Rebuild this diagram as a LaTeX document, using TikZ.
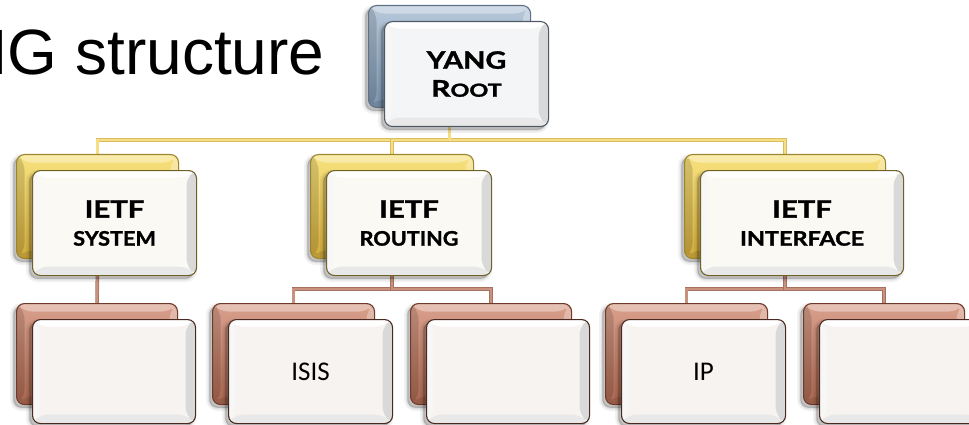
\documentclass[tikz,border=0pt]{standalone}
\usepackage{graphicx}
\usepackage{fontspec}
\setmainfont{Liberation Sans}
\newfontfamily\hdfont{Lato}[BoldFeatures={FakeBold=1.3}]
\newfontfamily\lffont{Carlito}

\definecolor{rootTop}{HTML}{B7C8DA}
\definecolor{rootBot}{HTML}{7C94AE}
\definecolor{rootEdge}{HTML}{5F7186}
\definecolor{rootLine}{HTML}{4F5A66}
\definecolor{rootFill}{HTML}{F4F5F6}
\definecolor{goldTop}{HTML}{F8E27E}
\definecolor{goldBot}{HTML}{D0AA3C}
\definecolor{goldEdge}{HTML}{9C8530}
\definecolor{goldLine}{HTML}{6E6228}
\definecolor{goldFill}{HTML}{FAF9F3}
\definecolor{copTop}{HTML}{D9A08C}
\definecolor{copBot}{HTML}{A8664F}
\definecolor{copEdge}{HTML}{6E3A2B}
\definecolor{copLine}{HTML}{4A2A20}
\definecolor{copFill}{HTML}{F7F3F1}
\definecolor{busGold}{HTML}{F6DE86}
\definecolor{busGoldEdge}{HTML}{D8BC5E}
\definecolor{busCop}{HTML}{C8927F}
\definecolor{busCopEdge}{HTML}{A8715F}

\pgfdeclarelayer{bg}
\pgfsetlayers{bg,main}

\tikzset{
  box/.style={rectangle, rounded corners=8pt, inner sep=0pt, anchor=north west,
    line width=1.1pt, align=center},
  % soft shadow below and to the left, built from stacked translucent copies
  softshadow/.style={
    preaction={draw=black, draw opacity=.05, line width=7pt, fill=black, fill opacity=.06,
      transform canvas={xshift=-3pt, yshift=-3pt}},
    preaction={draw=black, draw opacity=.07, line width=3.5pt, fill=black, fill opacity=.06,
      transform canvas={xshift=-3pt, yshift=-3pt}},
    preaction={draw=black, draw opacity=.10, line width=1pt, fill=black, fill opacity=.08,
      transform canvas={xshift=-3pt, yshift=-3pt}}},
  % chrome bevel on the coloured back plates
  backbevel/.style={path picture={
    \path (path picture bounding box.north west) coordinate (o1)
          (path picture bounding box.north east) coordinate (o2)
          (path picture bounding box.south east) coordinate (o3)
          (path picture bounding box.south west) coordinate (o4);
    \path ([shift={(8pt,-8pt)}]o1) coordinate (i1)
          ([shift={(-8pt,-8pt)}]o2) coordinate (i2)
          ([shift={(-8pt,8pt)}]o3) coordinate (i3)
          ([shift={(8pt,8pt)}]o4) coordinate (i4);
    \fill[white,opacity=.35] (o1)--(o2)--(i2)--(i1)--cycle;
    \fill[black,opacity=.14] (o1)--(i1)--(i4)--(o4)--cycle;
    \fill[white,opacity=.30] (o2)--(o3)--(i3)--(i2)--cycle;
    \fill[black,opacity=.10] (o4)--(i4)--(i3)--(o3)--cycle;
  }},
  % light bevel on the white front plates
  frontbevel/.style={path picture={
    \path (path picture bounding box.north west) coordinate (o1)
          (path picture bounding box.north east) coordinate (o2)
          (path picture bounding box.south east) coordinate (o3)
          (path picture bounding box.south west) coordinate (o4);
    \path ([shift={(7pt,-7pt)}]o1) coordinate (i1)
          ([shift={(-10pt,-7pt)}]o2) coordinate (i2)
          ([shift={(-10pt,9pt)}]o3) coordinate (i3)
          ([shift={(7pt,9pt)}]o4) coordinate (i4);
    \fill[white] (o1)--(o2)--(i2)--(i1)--cycle;
    \fill[white!97!black] (o1)--(i1)--(i4)--(o4)--cycle;
    \fill[black!15] (o2)--(o3)--(i3)--(i2)--cycle;
    \fill[black!9] (o4)--(i4)--(i3)--(o3)--cycle;
  }},
  rootback/.style={box, minimum height=102pt, top color=rootTop, bottom color=rootBot,
    draw=rootEdge, softshadow, backbevel},
  rootfront/.style={box, minimum height=105pt, fill=rootFill,
    draw=rootLine, softshadow, frontbevel},
  goldback/.style={box, minimum height=104pt, top color=goldTop, bottom color=goldBot,
    draw=goldEdge, softshadow, backbevel},
  goldfront/.style={box, minimum height=105pt, fill=goldFill,
    draw=goldLine, softshadow, frontbevel},
  copback/.style={box, minimum height=101pt, top color=copTop, bottom color=copBot,
    draw=copEdge, softshadow, backbevel},
  copfront/.style={box, minimum height=104pt, fill=copFill,
    draw=copLine, softshadow, frontbevel},
  ybus/.style={draw=busGoldEdge, line width=3.6pt,
    postaction={draw=busGold, line width=2.2pt}},
  cbus/.style={draw=busCopEdge, line width=3.6pt,
    postaction={draw=busCop, line width=2.2pt}},
  hdlabel/.style={font=\hdfont\bfseries\fontsize{24}{28}\selectfont},
  leaflabel/.style={font=\lffont\fontsize{27}{30}\selectfont},
}

% a coloured back plate with its white front plate on top
% #1 name, #2 x, #3 y, #4 width, #5 tier, #6 label, #7 label style
\newcommand\platepair[7]{%
  \node[#5back, minimum width=#4] (#1B) at (#2,#3) {};
  \node[#5front, minimum width=#4+2pt, #7] (#1) at ([shift={(16pt,-16pt)}]#1B.north west) {#6};
}

% horizontally widened heading words
\newcommand\wide[2]{\scalebox{#1}[1]{#2}}
\newcommand\subline[2]{\wide{#1}{\fontsize{20}{28}\selectfont #2}}

\begin{document}
\begin{tikzpicture}[x=1pt, y=-1pt]
  \useasboundingbox (0,0) rectangle (969,425);
  \clip (0,0) rectangle (969,425);

  \node[anchor=base west, inner sep=0pt, font=\fontsize{64}{64}\selectfont] (title) at (-10,75) {IG structure};

  % root
  \platepair{root}{368}{5}{162pt}{root}{\wide{1.2}{YANG}\\\wide{1.3}{\fontsize{23}{28}\selectfont R\fontsize{18}{28}\selectfont OOT}}{hdlabel}

  % second tier
  \platepair{sys}{16}{154}{162pt}{gold}{\wide{1.22}{IETF}\\\subline{1.08}{SYSTEM}}{hdlabel}
  \platepair{rt}{310}{154}{163pt}{gold}{\wide{1.22}{IETF}\\\subline{1.08}{ROUTING}}{hdlabel}
  \platepair{if}{684}{154}{201pt}{gold}{\wide{1.22}{IETF}\\\subline{1.17}{INTERFACE}}{hdlabel}

  % third tier
  \platepair{sysa}{16}{303}{161pt}{cop}{}{leaflabel}
  \platepair{isis}{212}{303}{162pt}{cop}{ISIS}{leaflabel}
  \platepair{rtb}{410}{303}{161pt}{cop}{}{leaflabel}
  \platepair{ip}{605}{303}{162pt}{cop}{IP}{leaflabel}
  \platepair{ifb}{803}{303}{161pt}{cop}{}{leaflabel}

  % connectors
  \begin{pgfonlayer}{bg}
    \draw[ybus] (rootB.south) -- ++(0,32) -| (sysB.north);
    \draw[ybus] (rootB.south) -- ++(0,32) -| (rtB.north);
    \draw[ybus] (rootB.south) -- ++(0,32) -| (ifB.north);
    \draw[cbus] (sysB.south) -- (sysaB.north);
    \draw[cbus] (rtB.south) -- ++(0,30) -| (isisB.north);
    \draw[cbus] (rtB.south) -- ++(0,30) -| (rtbB.north);
    \draw[cbus] (ifB.south) -- ++(0,30) -| (ipB.north);
    \draw[cbus] (ifB.south) -- ++(0,30) -| (ifbB.north);
  \end{pgfonlayer}
\end{tikzpicture}
\end{document}
